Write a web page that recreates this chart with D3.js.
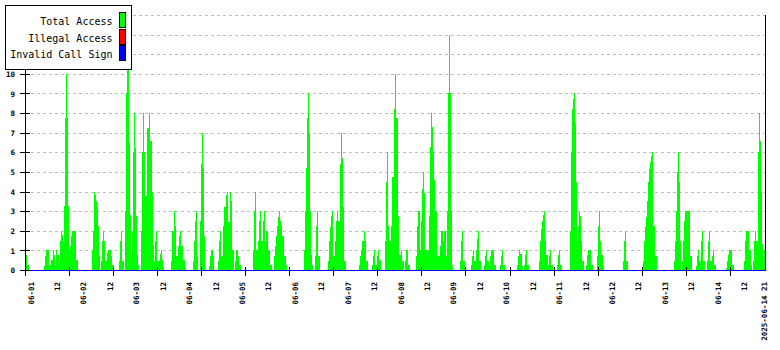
<!DOCTYPE html>
<html>
<head>
<meta charset="utf-8">
<script src="https://cdn.jsdelivr.net/npm/d3@7"></script>
<style>
  body { margin: 0; background: #ffffff; }
  svg { display: block; }
  text { font-family: "DejaVu Sans Mono", monospace; }
</style>
</head>
<body>
<svg width="780" height="350"></svg>
<script>
// Total Access por día: [hora del día, valor] (escalones)
const d0601 = [[0,1],[0.6,0.75],[1.0,0.25],[1.8,0],[8.6,0.2],[9.1,0.7],[9.5,1],[10.8,0.75],[11.0,0.25],[11.8,0.5],[12.7,1],[13.2,0.75],[13.6,0.25],[14.1,1],[14.4,0.75],[15.4,0.45],[15.9,1.5],[16.3,2],[16.8,1.8],[17.3,1.5],[17.7,3.25],[18.3,7.75],[18.6,10],[19.1,7.75],[19.5,3.25],[20.0,1],[20.4,1.2],[20.9,1.75],[21.3,2],[23.2,0.5]]
const d0602 = [[0,0],[6.4,1],[6.9,2],[7.3,4],[7.8,3.8],[8.2,3.5],[8.7,3.2],[9.1,2.25],[9.6,0.7],[10.1,0],[10.5,0.45],[11.0,1.5],[11.4,2],[11.9,1.5],[12.3,0.45],[13.2,0.85],[13.7,1],[15.0,0.7],[15.5,0.25],[16.4,0],[18.7,0.45],[19.1,1.5],[19.6,2],[20.0,0.45],[21.0,0],[21.4,3],[21.9,9],[22.3,10.2],[23.2,6.5],[23.6,2.8]]
const d0603 = [[0,2.8],[0.2,0.75],[0.6,2],[1.0,6],[1.5,8],[1.9,6.2],[2.4,2.75],[2.9,0.75],[3.3,0.25],[3.8,0],[4.7,2],[5.1,6],[5.6,8],[6.0,6],[6.5,3.75],[7.4,7.25],[8.3,8],[8.7,6.6],[9.6,4],[10.1,1.3],[10.6,0.45],[11.0,1.5],[11.5,2],[11.9,0.45],[13.3,0.8],[13.7,1],[14.2,0.5],[14.6,0.15],[15.1,0],[18.2,0.45],[18.7,2],[19.6,3],[20.1,2.25],[20.5,0.7],[21.4,1.2],[21.9,1.75],[22.3,2],[22.8,1.2],[23.7,0.5]]
const d0604 = [[0,0.5],[0.6,0.15],[1.1,0],[4.3,0.45],[4.7,1.5],[5.2,2.5],[5.6,3],[6.1,0.7],[6.5,0],[7.5,2.5],[8.0,5.4],[8.4,7],[8.9,5.2],[9.3,1.75],[9.7,0],[11.6,0.2],[12.0,0.7],[12.5,1],[13.4,0.7],[13.8,0],[15.6,0.45],[16.1,1.5],[16.5,2],[17.0,0.7],[17.9,2.25],[18.4,3.2],[19.3,3.8],[19.7,4],[20.2,2.45],[21.1,4],[21.5,3.5],[22.0,1],[22.9,0],[23.3,0.45],[23.8,1]]
const d0605 = [[0,1],[0.7,0.7],[1.2,0.25],[2.1,0],[7.5,1],[8.0,3],[8.4,4],[8.8,1],[9.7,1.5],[10.2,2.5],[10.6,3],[11.1,1.5],[12.0,2.5],[12.5,3],[12.9,1.5],[13.4,2],[14.3,1],[15.2,0.25],[16.1,0],[17.0,0.7],[17.5,1.2],[17.9,1.75],[18.4,2.25],[18.8,2.7],[19.3,3],[19.7,2.5],[20.2,2.25],[20.6,1.75],[21.5,0.7],[22.4,0.25],[22.9,0]]
const d0606 = [[0,0],[6.7,1],[7.1,3],[7.6,5.2],[8.0,7.75],[8.5,9],[8.9,7],[9.4,3],[9.9,0.75],[10.3,0.25],[10.8,0],[11.7,0.7],[12.1,2.25],[12.6,3],[13.0,0.7],[13.9,0],[17.6,0.45],[18.0,1.5],[18.5,2.2],[18.9,2.75],[19.4,3],[19.8,0.7],[20.7,1.5],[21.2,2.5],[21.6,3],[22.1,2.5],[23.0,5.4],[23.5,7],[23.9,5.7]]
const d0607 = [[0,5.7],[0.4,3.2],[0.8,0.45],[1.7,0],[7.6,0.25],[8.1,0.7],[8.6,1],[9.1,1.5],[9.9,2],[10.4,1.5],[10.8,0.45],[11.7,0],[13.6,0.25],[14.0,0.7],[14.5,1],[14.9,0.25],[15.8,0.7],[16.3,1],[16.7,0.5],[17.6,0],[19.4,1.5],[19.9,4.5],[20.4,6],[20.8,2.25],[21.3,1.5],[22.2,2.25],[22.6,4.75],[23.5,8.2]]
const d0608 = [[0,10],[0.5,7.75],[1.4,2.75],[1.8,0.75],[2.7,1],[3.2,0.45],[4.1,0],[4.5,0.45],[5.0,1],[5.9,0.25],[6.8,0],[9.5,0.7],[10.0,2.25],[10.4,3],[11.4,1],[11.8,2.5],[12.3,4.15],[12.7,5],[13.2,3.95],[13.6,1],[15.4,2.75],[15.9,6.25],[16.3,8],[16.8,7.3],[17.3,6],[17.7,4.6],[18.2,3],[19.1,0.7],[20.4,1.2],[20.9,2],[21.8,1.5],[22.3,2],[23.2,0.7],[23.6,3]]
const d0609 = [[0,9],[0.5,12],[0.8,9],[1.4,3],[1.9,0.25],[2.3,0],[5.5,0.45],[6.0,1.5],[6.4,2],[6.9,0.45],[7.8,0],[10.5,0.25],[11.0,0.7],[11.4,1],[11.9,0.45],[12.8,1],[13.2,1.6],[13.7,2],[14.1,0.45],[15.0,0],[16.4,0.25],[16.8,0.7],[17.3,1],[17.7,0.45],[18.6,0.25],[19.1,0.7],[19.5,1],[20.9,0.25],[21.8,0],[23.6,0.25]]
const d0610 = [[0,0.7],[0.6,1],[1.0,0.25],[1.9,0],[7.4,0.25],[7.8,0.7],[8.3,1],[8.8,0.8],[9.7,0.2],[10.1,0],[10.6,0.25],[11.0,0.75],[11.5,1],[11.9,0.25],[12.8,0],[17.4,0.45],[17.8,1.5],[18.3,2.1],[18.7,2.5],[19.2,2.8],[19.6,3],[20.1,1.5],[20.5,0.75],[21.4,0.25],[21.9,0.7],[22.3,1],[22.8,0.25],[23.7,0]]
const d0611 = [[0,0],[1.6,0.25],[2.0,0.75],[2.5,1],[2.9,0.25],[3.8,0],[7.5,2],[7.9,6],[8.4,8.2],[8.8,8.7],[9.3,9],[9.7,7.5],[10.2,4.5],[10.6,1.5],[11.1,2.25],[11.5,3],[12.0,2.75],[12.5,1.5],[12.9,0.45],[13.8,0],[14.7,0.25],[15.2,0.75],[15.6,1],[17.0,0.25],[17.9,0],[19.7,0.7],[20.2,2.25],[20.6,3],[21.1,1.5],[21.5,0.75],[22.4,0.25],[22.9,0]]
const d0612 = [[0,0],[7.5,0.45],[8.0,1.5],[8.4,2],[8.9,0.45],[9.8,0],[16.6,0.45],[17.1,1.5],[17.5,2.2],[18.0,2.7],[18.4,3.5],[18.9,4.5],[19.3,5.15],[19.8,5.5],[20.2,5.8],[20.7,6],[21.1,2.25],[22.0,0.7],[22.9,0]]
const d0613 = [[0,0],[6.7,0.45],[7.1,1.5],[7.6,3],[8.0,5],[8.5,6],[8.9,4.5],[9.4,1.5],[9.8,0],[10.3,0.45],[10.7,1.5],[11.2,2.5],[11.7,3],[13.9,0.7],[14.8,0],[16.7,0.2],[17.1,0.7],[17.6,1],[18.0,0.45],[18.9,1.5],[19.4,2],[19.8,0.45],[20.7,0],[21.6,0.45],[22.1,1.5],[22.5,2],[23.0,0.45],[23.9,0.7]]
const d0614 = [[0,0.7],[0.4,1],[0.8,0.25],[1.8,0],[6.3,0.1],[6.7,0.45],[7.2,0.75],[7.7,1],[9.0,0.25],[9.9,0],[14.5,0.45],[14.9,1.5],[15.4,2],[16.7,1],[17.6,0.25],[18.1,0],[18.6,0.45],[19.0,1.5],[19.5,2],[19.9,1.5],[20.8,6],[21.3,8],[21.7,6.6],[22.2,4],[22.6,1.35],[23.1,0.7],[23.5,1]]

// Illegal Access e Invalid Call Sign: siempre 0
const flatHours = [0, 336]
const illegalAccess = [0, 0]
const invalidCallSign = [0, 0]

// Ejes
const yTicks = [0,1,2,3,4,5,6,7,8,9,10,11,12,13]
const yLabels = [0,1,2,3,4,5,6,7,8,9,10]   // 11-13 quedan bajo la leyenda
const xTickHours = [0,20,40,60,80,100,120,140,160,180,200,220,240,260,280,300,320]
const xLabels = ["06-01","12","06-02","12","06-03","12","06-04","12","06-05","12","06-06","12","06-07","12",
  "06-08","12","06-09","12","06-10","12","06-11","12","06-12","12","06-13","12","06-14","12","2025-06-14 21"]
const xLabelHours = [0,12,24,36,48,60,72,84,96,108,120,132,144,156,168,180,192,204,216,228,240,252,264,276,288,300,312,324,333]

const legendNames = ["Total Access", "Illegal Access", "Invalid Call Sign"]
const legendColors = ["#00ff00", "#ff0000", "#0000ff"]

// Escalas
const start = new Date(2025, 5, 1)
const end = new Date(2025, 5, 15)
const hour = 3600 * 1000
const atHour = h => new Date(+start + h * hour)

const xScale = d3.scaleTime([start, end], [25, 765])
const yScale = d3.scaleLinear([0, 13], [270, 15])

const svg = d3.select("svg")
svg.append("rect").attr("width", 780).attr("height", 350).attr("fill", "#ffffff")

const days = [d0601, d0602, d0603, d0604, d0605, d0606, d0607, d0608, d0609, d0610, d0611, d0612, d0613, d0614]
const points = days.flatMap((day, i) => day.map(([h, v]) => ({time: atHour(i * 24 + h), value: v})))
points.push({time: end, value: points[points.length - 1].value})

// Rejilla
svg.append("g")
  .selectAll("line")
  .data(yTicks.filter(d => d > 0))
  .join("line")
    .attr("x1", 25).attr("x2", 765)
    .attr("y1", d => yScale(d) + 0.5).attr("y2", d => yScale(d) + 0.5)
    .attr("stroke", "#bdbdbd")
    .attr("stroke-dasharray", "3,3")
    .attr("shape-rendering", "crispEdges")

// Área Total Access
const area = d3.area()
  .x(d => xScale(d.time))
  .y0(yScale(0))
  .y1(d => yScale(d.value))
  .curve(d3.curveStepAfter)

svg.append("path")
  .datum(points)
  .attr("d", area)
  .attr("fill", "#00ff00")
  .attr("shape-rendering", "crispEdges")

// Líneas en cero
const flatLine = values => d3.line()
  .x((d, i) => xScale(atHour(flatHours[i])))
  .y(d => yScale(d) + 0.5)(values)

svg.append("path").attr("d", flatLine(illegalAccess))
  .attr("stroke", "#ff0000").attr("fill", "none").attr("shape-rendering", "crispEdges")
svg.append("path").attr("d", flatLine(invalidCallSign))
  .attr("stroke", "#0000ff").attr("fill", "none").attr("shape-rendering", "crispEdges")

// Eje Y
const yAxis = svg.append("g").attr("shape-rendering", "crispEdges")
yAxis.append("line")
  .attr("x1", 25.5).attr("x2", 25.5)
  .attr("y1", yScale(13)).attr("y2", yScale(0) + 1)
  .attr("stroke", "#000")
yAxis.selectAll(".tick")
  .data(yTicks)
  .join("line")
    .attr("x1", 20).attr("x2", 30)
    .attr("y1", d => yScale(d) + 0.5).attr("y2", d => yScale(d) + 0.5)
    .attr("stroke", "#000")
svg.append("g")
  .selectAll("text")
  .data(yLabels)
  .join("text")
    .attr("x", 15)
    .attr("y", d => yScale(d) + 0.5)
    .attr("dy", "0.35em")
    .attr("text-anchor", "end")
    .attr("font-size", "7.5px")
    .attr("font-weight", "bold")
    .text(d => d)

// Borde derecho
svg.append("line")
  .attr("x1", 765.5).attr("x2", 765.5)
  .attr("y1", yScale(13)).attr("y2", yScale(0) + 1)
  .attr("stroke", "#000")
  .attr("shape-rendering", "crispEdges")

// Eje X
svg.append("g")
  .selectAll("line")
  .data(xTickHours)
  .join("line")
    .attr("x1", d => Math.round(xScale(atHour(d))) + 0.5)
    .attr("x2", d => Math.round(xScale(atHour(d))) + 0.5)
    .attr("y1", 267).attr("y2", 276)
    .attr("stroke", "#000")
    .attr("shape-rendering", "crispEdges")

svg.append("g")
  .selectAll("text")
  .data(xLabels)
  .join("text")
    .attr("transform", (d, i) => `translate(${xScale(atHour(xLabelHours[i])) + 6}, 282) rotate(-90)`)
    .attr("dy", "0.35em")
    .attr("text-anchor", "end")
    .attr("font-size", "7.5px")
    .attr("font-weight", "bold")
    .text(d => d)

// Leyenda
const legend = svg.append("g")
legend.append("rect")
  .attr("x", 5.5).attr("y", 5.5)
  .attr("width", 126).attr("height", 64)
  .attr("fill", "#ffffff").attr("stroke", "#000")
  .attr("shape-rendering", "crispEdges")

legend.selectAll("text")
  .data(legendNames)
  .join("text")
    .attr("x", 112.5)
    .attr("y", (d, i) => 25 + i * 16.7)
    .attr("text-anchor", "end")
    .attr("font-size", "10px")
    .attr("fill", "#000")
    .text(d => d)

legend.selectAll(".swatch")
  .data(legendColors)
  .join("rect")
    .attr("x", 119.5)
    .attr("y", (d, i) => 12.5 + i * 16.7)
    .attr("width", 6).attr("height", 15)
    .attr("fill", d => d).attr("stroke", "#000")
    .attr("shape-rendering", "crispEdges")
</script>
</body>
</html>
